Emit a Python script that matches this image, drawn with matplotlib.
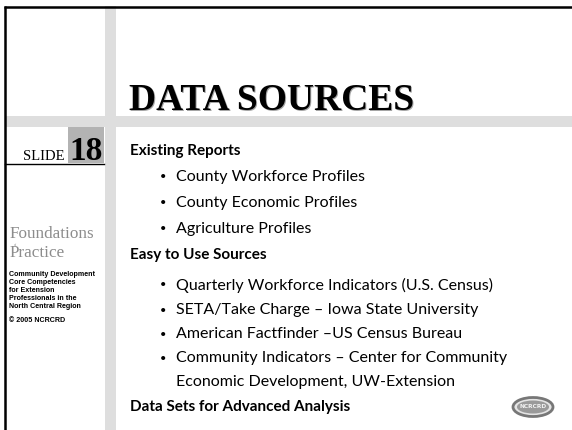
import matplotlib
matplotlib.use("Agg")
import matplotlib.pyplot as plt
from matplotlib.patches import Rectangle, Ellipse

# Slide content
title = "DATA SOURCES"
slide_number = "18"
items = [
    (0, "Existing Reports"),
    (1, "County Workforce Profiles"),
    (1, "County Economic Profiles"),
    (1, "Agriculture Profiles"),
    (0, "Easy to Use Sources"),
    (1, "Quarterly Workforce Indicators (U.S. Census)"),
    (1, "SETA/Take Charge \u2013 Iowa State University"),
    (1, "American Factfinder \u2013US Census Bureau"),
    (1, "Community Indicators \u2013 Center for Community"),
    (2, "Economic Development, UW-Extension"),
    (0, "Data Sets for Advanced Analysis"),
]
sidebar_lines = [
    "Community Development",
    "Core Competencies",
    "for Extension",
    "Professionals in the",
    "North Central Region",
]
copyright_line = "\u00a9 2005 NCRCRD"

# Layout (pixels, y grows downward)
W, H = 572, 430
line_y = [151, 177, 203, 229, 255, 285, 310, 334, 358, 382, 407]
BAR = "#dedede"
BODY_FONT = "Lato"

fig = plt.figure(figsize=(W / 100, H / 100), dpi=100)
ax = fig.add_axes([0, 0, 1, 1])
ax.set_xlim(0, W)
ax.set_ylim(H, 0)
ax.axis("off")

# gray frame bars
ax.add_patch(Rectangle((105, 6), 11, H, color=BAR, lw=0))
ax.add_patch(Rectangle((5, 116), W, 11, color=BAR, lw=0))
# black border on top and left
ax.plot([4, W], [6.5, 6.5], color="black", lw=1.8, solid_capstyle="butt")
ax.plot([5, 5], [6, H], color="black", lw=1.8, solid_capstyle="butt")

# title with a soft shadow
ax.text(130, 111, title, fontsize=27, fontweight="bold", family="Liberation Serif",
        color="#a5a5a5", va="baseline", ha="left")
ax.text(129, 110, title, fontsize=27, fontweight="bold", family="Liberation Serif",
        color="black", va="baseline", ha="left")

# slide number box
ax.add_patch(Rectangle((68, 127), 36, 36, color="#b3b3b3", lw=0))
ax.text(86, 160, slide_number, fontsize=24, fontweight="bold", family="Liberation Serif",
        ha="center", va="baseline")
ax.text(65, 160, "SLIDE", fontsize=10.5, family="Liberation Serif", ha="right", va="baseline")
ax.plot([5, 104], [163.5, 163.5], color="black", lw=1)

# Foundations of Practice logo ("of" tucked between the two words)
ax.text(10, 238.5, "Foundations", fontsize=12.3, family="Liberation Serif", color="#8c8c8c",
        va="baseline")
ax.text(14, 246.5, "of", fontsize=2.8, family="Liberation Serif", color="#8c8c8c",
        va="baseline")
ax.text(10, 257, "Practice", fontsize=12.3, family="Liberation Serif", color="#8c8c8c",
        va="baseline")

for i, txt in enumerate(sidebar_lines):
    ax.text(9, 274 + i * 8.2, txt, fontsize=5.1, fontweight="bold",
            family="Liberation Sans", va="center")
ax.text(9, 321, copyright_line, fontsize=5.1, fontweight="bold",
        family="Liberation Sans", va="center")

# bullet list
for (level, txt), y in zip(items, line_y):
    if level == 0:
        ax.text(130, y, txt, fontsize=11, fontweight="bold", family=BODY_FONT, va="center")
    else:
        if level == 1:
            ax.text(160, y, "\u2022", fontsize=8, family=BODY_FONT, va="center")
        ax.text(176, y, txt, fontsize=11.5, family=BODY_FONT, va="center")

# NCRCRD logo in the corner
ax.add_patch(Ellipse((533, 407), 40, 19, facecolor="#e4e4e4", edgecolor="#777777", lw=2))
ax.add_patch(Ellipse((533, 407), 32, 13, facecolor="#9a9a9a", edgecolor="none"))
ax.text(533, 407, "NCRCRD", fontsize=4.2, fontweight="bold", family="DejaVu Sans",
        ha="center", va="center", color="#f2f2f2")

fig.savefig("out.png", dpi=100)
